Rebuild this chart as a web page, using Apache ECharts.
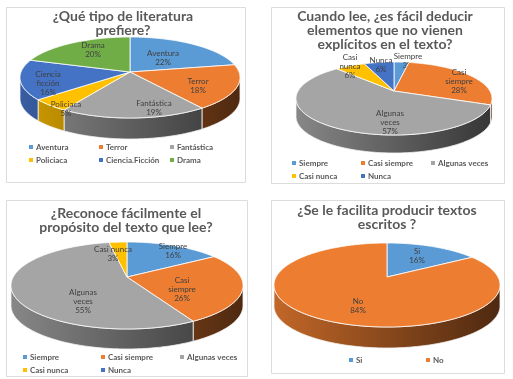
<!DOCTYPE html>
<html><head><meta charset="utf-8">
<style>html,body{margin:0;padding:0;background:#fff}#c{width:513px;height:379px;filter:blur(0.45px)}</style>
<script src="https://cdn.jsdelivr.net/npm/echarts@6/dist/echarts.min.js"></script>
</head><body><div id="c"></div>
<script>
// ---- data ----
const title1 = '¿Qué tipo de literatura\nprefiere?';
const legend1 = ['Aventura','Terror','Fantástica','Policiaca','Ciencia.Ficción','Drama'];
const labels1 = ['Aventura','Terror','Fantástica','Policiaca','Ciencia\nficción','Drama'];
const values1 = [22,18,19,5,16,20];

const title2 = 'Cuando lee, ¿es fácil deducir\nelementos que no vienen\nexplícitos en el texto?';
const legend2 = ['Siempre','Casi siempre','Algunas veces','Casi nunca','Nunca'];
const labels2 = ['Siempre','Casi\nsiempre','Algunas\nveces','Casi\nnunca','Nunca'];
const values2 = [3,28,57,6,6];

const title3 = '¿Reconoce fácilmente el\npropósito del texto que lee?';
const legend3 = ['Siempre','Casi siempre','Algunas veces','Casi nunca','Nunca'];
const labels3 = ['Siempre','Casi\nsiempre','Algunas\nveces','Casi nunca','Nunca'];
const values3 = [16,26,55,3,0];

const title4 = '¿Se le facilita producir textos\nescritos ?';
const legend4 = ['Si','No'];
const labels4 = ['Si','No'];
const values4 = [16,84];

// ---- layout and style ----
const BLUE='#5B9BD5',ORANGE='#ED7D31',GREY='#A5A5A5',YELLOW='#FFC000',NAVY='#4472C4',GREEN='#70AD47';
const FONT='Lato, "Open Sans", sans-serif';
const charts=[
 {title:title1,names:legend1,labels:labels1,values:values1,colors:[BLUE,ORANGE,GREY,YELLOW,NAVY,GREEN],
  panel:[6,7,239,175],titleX:123,titleY:10,
  cx:130,cy:72,up:35,down:46,rx:110,depth:21,
  offs:[[33,-14],[68,14],[24,36],[-64,37],[-82,11],[-37,-22]],
  legX:[31,101,172,31,101,172],legY:[147,147,147,160,160,160]},
 {title:title2,names:legend2,labels:labels2,values:values2,colors:[BLUE,ORANGE,GREY,YELLOW,NAVY],
  panel:[271,7,233,176],titleX:385,titleY:10,
  cx:394,cy:91,up:29,down:44,rx:98,depth:18,
  offs:[[14,-30],[65,-10],[-4,31],[-44,-25],[-13,-26]],
  legX:[294,363,433,294,363],legY:[163,163,163,176,176]},
 {title:title3,names:legend3,labels:labels3,values:values3,colors:[BLUE,ORANGE,GREY,YELLOW,NAVY],
  panel:[6,200,241,176],titleX:126,titleY:207,
  cx:127,cy:277,up:35,down:52,rx:116,depth:20,
  offs:[[46,-26],[55,12],[-44,24],[-14,-23],[0,0]],
  legX:[25,103,182,25,103],legY:[357,357,357,370,370]},
 {title:title4,names:legend4,labels:labels4,values:values4,colors:[BLUE,ORANGE],
  panel:[271,200,233,173],titleX:387,titleY:204,
  cx:387,cy:277,up:34,down:50,rx:113,depth:21,
  offs:[[30,-21],[-29,29]],
  legX:[351,428],legY:[360,360]}
];

function shade(hex,f){
  const n=parseInt(hex.slice(1),16);
  const c=[n>>16&255,n>>8&255,n&255].map(v=>Math.round(v*f));
  return 'rgb('+c.join(',')+')';
}
function projector(ch){
  const k=(ch.down-ch.up)/(ch.down+ch.up);
  const ry=ch.up*(1+k), R=ch.rx*Math.sqrt(1-k*k);
  return {k,pt(deg,dy){
    const a=deg*Math.PI/180, w=1+k*Math.cos(a);
    return [ch.cx+R*Math.sin(a)/w, ch.cy-ry*Math.cos(a)/w+(dy||0)];
  }};
}
function arc(p,a0,a1,dy){
  const out=[],n=Math.max(2,Math.ceil(a1-a0));
  for(let i=0;i<=n;i++) out.push(p.pt(a0+(a1-a0)*i/n,dy));
  return out;
}

const series=[],legends=[],graphics=[],titles=[];
charts.forEach(ch=>{
  graphics.push({type:'rect',z:-1,silent:true,
    shape:{x:ch.panel[0]+.5,y:ch.panel[1]+.5,width:ch.panel[2],height:ch.panel[3]},
    style:{fill:'#fff',stroke:'#dcdcdc',lineWidth:1}});
  titles.push({text:ch.title,left:ch.titleX,top:ch.titleY,textAlign:'center',padding:0,
    textStyle:{fontFamily:FONT,fontSize:14,fontWeight:'bold',color:'#595959',lineHeight:13.6}});
  const p=projector(ch);
  const total=ch.values.reduce((a,b)=>a+b,0);
  const side=Math.acos(-p.k)*180/Math.PI;
  const xL=ch.cx-ch.rx, xR=ch.cx+ch.rx;
  let cum=0;
  ch.names.forEach((name,i)=>{
    const start=cum/total*360; cum+=ch.values[i];
    const end=cum/total*360;
    const color=ch.colors[i], off=ch.offs[i], label=ch.labels[i];
    series.push({type:'custom',name,coordinateSystem:'none',silent:true,
      itemStyle:{color},data:[[ch.values[i]]],
      renderItem(params,api){
        if(!api.value(0)) return {type:'group',children:[]};
        const kids=[];
        const w0=Math.max(start,side), w1=Math.min(end,360-side);
        if(w1>w0){
          const rim=arc(p,w0,w1,0), low=arc(p,w0,w1,ch.depth).reverse();
          kids.push({type:'polygon',shape:{points:rim.concat(low)},
            style:{fill:{type:'linear',x:xL,y:0,x2:xR,y2:0,global:true,colorStops:[
              {offset:0,color:shade(color,.82)},{offset:1,color:shade(color,.33)}]},
              stroke:'#f4f4f4',lineWidth:.8}});
        }
        kids.push({type:'polygon',
          shape:{points:[[ch.cx,ch.cy]].concat(arc(p,start,end,0))},
          style:{fill:color,stroke:'#fff',lineWidth:.8}});
        kids.push({type:'text',style:{text:label+'\n'+ch.values[i]+'%',
          x:ch.cx+off[0],y:ch.cy+off[1],align:'center',verticalAlign:'middle',
          fontFamily:FONT,fontSize:8,lineHeight:9,fill:'#404040'}});
        return {type:'group',children:kids};
      }});
    legends.push({data:[name],selectedMode:false,left:ch.legX[i]-2,top:ch.legY[i]-6,
      padding:0,icon:'rect',itemWidth:4,itemHeight:4,itemGap:0,
      textStyle:{fontFamily:FONT,fontSize:8,fontWeight:'bold',color:'#595959',
        padding:[0,0,0,-2],lineHeight:12}});
  });
});

const chart=echarts.init(document.getElementById('c'),null,{renderer:'canvas'});
chart.setOption({animation:false,backgroundColor:'#fff',title:titles,legend:legends,series,graphic:graphics});
</script></body></html>
